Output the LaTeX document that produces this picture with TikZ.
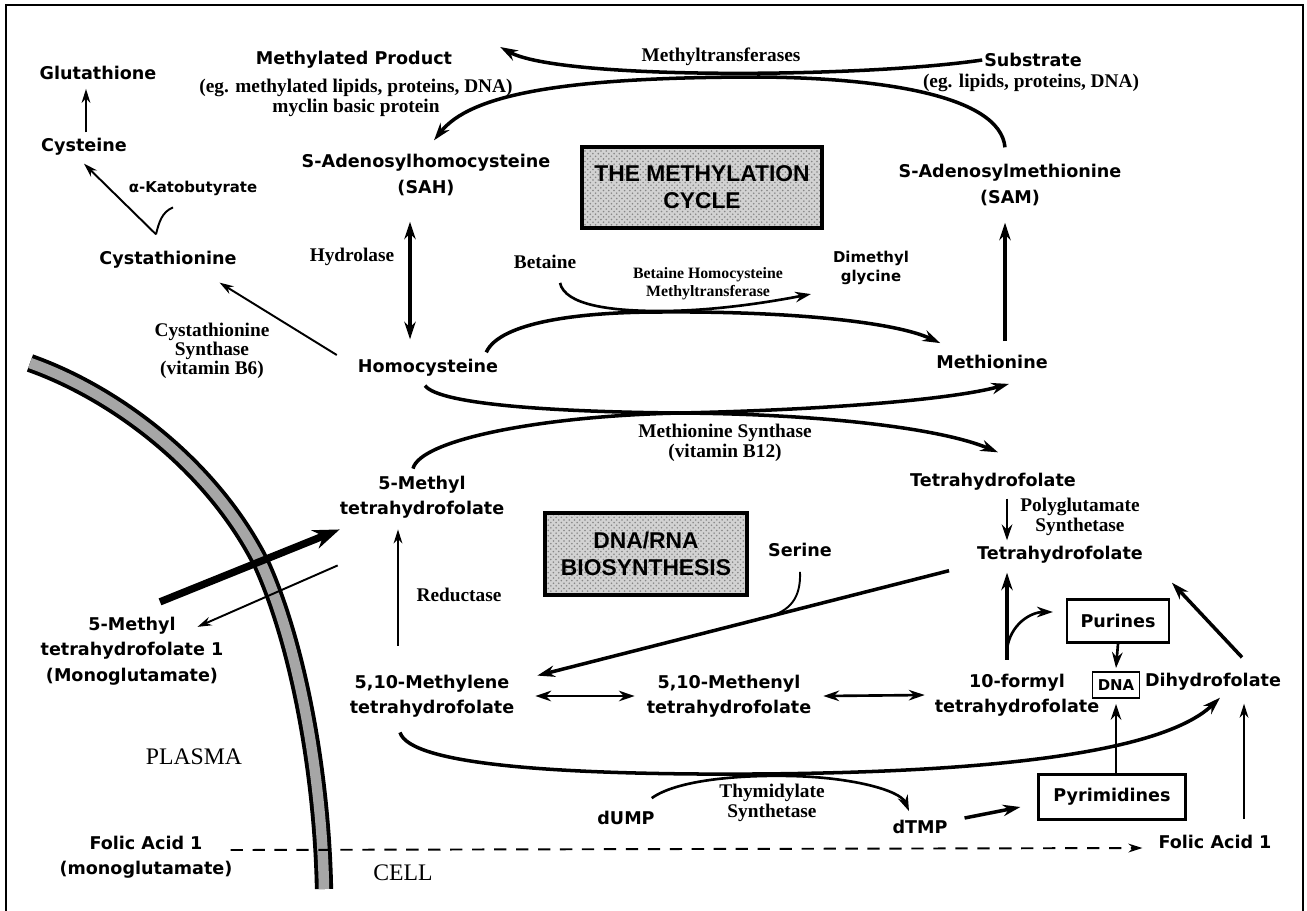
\documentclass[tikz,border=0pt]{standalone}
\usepackage{fontspec}
\usetikzlibrary{calc,arrows.meta,patterns}
\newfontfamily\dvsans{DejaVu Sans}
\newfontfamily\lserif{Liberation Serif}
\newfontfamily\lsans{Liberation Sans}

\tikzset{
  lbl/.style={font=\dvsans\bfseries\fontsize{10}{14.5}\selectfont, align=center, inner sep=1pt},
  lblsm/.style={lbl, font=\dvsans\bfseries\fontsize{8.5}{11}\selectfont},
  enz/.style={font=\lserif\bfseries\fontsize{11}{11}\selectfont, align=center, inner sep=1pt},
  enzsm/.style={enz, font=\lserif\bfseries\fontsize{9}{10.2}\selectfont},
  area/.style={font=\lserif\fontsize{13.5}{16}\selectfont, inner sep=1pt},
  titlebox/.style={draw, line width=1.8pt, preaction={fill=gray!35},
    pattern=crosshatch dots, pattern color=gray!95,
    font=\lsans\bfseries\fontsize{13}{15.5}\selectfont, align=center},
  prodbox/.style={lbl, draw, line width=1.3pt},
  thk/.style={line width=2pt, >={Stealth[length=10pt,width=6.5pt]}},
  med/.style={line width=1.5pt, >={Stealth[length=9pt,width=6pt]}},
  thn/.style={line width=1.1pt, >={Stealth[length=8pt,width=5pt]}},
  vthk/.style={line width=4.2pt, >={Stealth[length=15pt,width=11pt]}},
  dsh/.style={line width=1.1pt, dash pattern=on 7pt off 5.5pt, >={Stealth[length=8pt,width=5pt]}},
  membrane/.style={line width=2.2pt, double=gray!70, double distance=0.21cm}
}

\begin{document}
\begin{tikzpicture}[x=0.02cm, y=-0.02cm]
  \useasboundingbox (0,0) rectangle (1307,910);
  \draw[line width=1.4pt] (6,915) -- (6,5) -- (1303,5) -- (1303,915);

  % cell membrane
  \draw[membrane] (30,363) .. controls (120,395) and (215,470) .. (262,565)
    .. controls (300,650) and (322,780) .. (324,889);

  % methylation cycle
  \node[lbl] (glut) at (98,73) {Glutathione};
  \node[lbl] (cys) at (84,147) {Cysteine};
  \node[lblsm] (keto) at (193,188) {α-Katobutyrate};
  \node[lbl] (cysta) at (168,260) {Cystathionine};
  \node[enz] (cbs) at (212,351) {Cystathionine\\Synthase\\(vitamin B6)};
  \node[lbl] (methprod) at (354,60) {Methylated Product};
  \node[enz] (methex) at (356,98) {(eg. methylated lipids, proteins, DNA)\\myclin basic protein};
  \node[enz] (mtase) at (721,57) {Methyltransferases};
  \node[lbl] (subst) at (1033,60) {Substrate};
  \node[enz] (substex) at (1031,83) {(eg. lipids, proteins, DNA)};
  \node[lbl] (sah) at (426,175) {S-Adenosylhomocysteine\\(SAH)};
  \node[lbl] (sam) at (1010,185) {S-Adenosylmethionine\\(SAM)};
  \node[titlebox, minimum width=4.8cm, minimum height=1.62cm] (mcycle) at (702,187.5)
    {THE METHYLATION\\CYCLE};
  \node[enz] (hydro) at (352,257) {Hydrolase};
  \node[enz] (betaine) at (545,262) {Betaine};
  \node[enzsm] (bhmt) at (708,284) {Betaine Homocysteine\\Methyltransferase};
  \node[lblsm] (dmg) at (871,268) {Dimethyl\\glycine};
  \node[lbl] (homocys) at (428,368) {Homocysteine};
  \node[lbl] (met) at (992,362) {Methionine};
  \node[enz] (msyn) at (725,443) {Methionine Synthase\\(vitamin B12)};

  % folate cycle
  \node[lbl] (mthf) at (422,497) {5-Methyl\\tetrahydrofolate};
  \node[lbl] (thfa) at (993,482) {Tetrahydrofolate};
  \node[enz] (pgs) at (1080,517) {Polyglutamate\\Synthetase};
  \node[lbl] (serine) at (800,550) {Serine};
  \node[lbl] (thfb) at (1060,555) {Tetrahydrofolate};
  \node[titlebox, minimum width=4.04cm, minimum height=1.64cm] (dnarna) at (646,554)
    {DNA/RNA\\BIOSYNTHESIS};
  \node[enz] (reduct) at (459,595) {Reductase};
  \node[lbl] (mthfp) at (132,651) {5-Methyl\\tetrahydrofolate 1\\(Monoglutamate)};
  \node[lbl] (mlene) at (432,696) {5,10-Methylene\\tetrahydrofolate};
  \node[lbl] (menyl) at (729,696) {5,10-Methenyl\\tetrahydrofolate};
  \node[lbl] (formyl) at (1017,695) {10-formyl\\tetrahydrofolate};
  \node[prodbox, minimum width=2.04cm, minimum height=0.86cm] (purines) at (1118,621) {Purines};
  \node[prodbox, font=\dvsans\bfseries\fontsize{8.5}{10}\selectfont,
    minimum width=0.94cm, minimum height=0.52cm, line width=1.1pt] (dna) at (1116,685) {DNA};
  \node[lbl] (dhf) at (1213,682) {Dihydrofolate};
  \node[area] (plasma) at (194,757) {PLASMA};
  \node[lbl] (dump) at (626,818) {dUMP};
  \node[enz] (tyms) at (772,803) {Thymidylate\\Synthetase};
  \node[lbl] (dtmp) at (920,827) {dTMP};
  \node[prodbox, minimum width=2.94cm, minimum height=0.9cm] (pyrim) at (1112,797) {Pyrimidines};
  \node[lbl] (folr) at (1215,842) {Folic Acid 1};
  \node[lbl] (foll) at (146,857) {Folic Acid 1\\(monoglutamate)};
  \node[area] (cell) at (403,873) {CELL};

  % methyltransferase arcs
  \draw[thk,->] (subst.west) .. controls (860,78) and (560,80) .. ($(methprod.east)+(46,-13)$);
  \draw[thk,->] ($(sam.north)+(-5,-15)$) .. controls (1000,95) and (880,78) .. (760,77)
    .. controls (560,77) and (470,95) .. ($(sah.north)+(8,-12)$);
  \draw[thk,<->] ($(sah.south)+(-16,24)$) -- ($(homocys.north)+(-18,-18)$);
  \draw[thk,->] ($(met.north)+(13,-12)$) -- ($(sam.south)+(-5,15)$);

  % transsulfuration
  \draw[thn,->] ($(homocys.west)+(-19,-13)$) -- ($(cysta.south east)+(-19,12)$);
  \coordinate (kb) at ($(cysta.north)+(-12,-15)$);
  \draw[thn,->] (kb) -- ($(cys.south)+(0,6)$);
  \draw[thn] ($(keto.south)+(-20,10)$) .. controls (162,212) and (159,222) .. (kb);
  \draw[thn,->] ($(cys.north)+(2,-4)$) -- ($(glut.south)+(-12,7)$);

  % betaine and methionine synthase
  \draw[med,->] ($(betaine.south)+(15,12)$) .. controls (565,305) and (610,311) .. (660,311)
    .. controls (720,311) and (780,300) .. ($(dmg.south west)+(-20,7)$);
  \draw[thk,->] ($(homocys.north east)+(-14,-5)$) .. controls (500,322) and (580,312) .. (660,312)
    .. controls (790,311) and (895,322) .. ($(met.north west)+(6,-10)$);
  \draw[thk,->] ($(homocys.south)+(-3,7)$) .. controls (440,405) and (560,412) .. (680,413)
    .. controls (820,414) and (940,428) .. ($(thfa.north)+(5,-19)$);
  \draw[thk,->] ($(mthf.north)+(-9,-5)$) .. controls (420,440) and (540,416) .. (680,413)
    .. controls (820,410) and (950,400) .. ($(met.south)+(17,13)$);

  % transport across the membrane
  \draw[vthk,->] ($(mthfp.north)+(28,-13)$) -- ($(mthf.south west)+(2,9)$);
  \draw[thn,->] ($(mthf.south west)+(0,45)$) -- ($(mthfp.north east)+(-28,12)$);

  % folate interconversions
  \draw[thn,->] ($(mlene.north)+(-34,-27)$) -- ($(mthf.south)+(-24,9)$);
  \draw[med,->] ($(thfa.south)+(14,6)$) -- ($(thfb.north)+(-53,-4)$);
  \draw[thk,->] ($(thfb.south west)+(-26,5)$) -- coordinate[pos=0.44] (serj)
    ($(mlene.north east)+(21,3)$);
  \draw[thn] ($(serine.south)+(0,13)$) .. controls (801,598) and (790,611) .. (serj);
  \draw[med,<->] ($(mlene.east)+(19,0)$) -- ($(menyl.west)+(-10,0)$);
  \draw[med,<->] ($(menyl.east)+(10,0)$) -- ($(formyl.west)+(-8,0)$);
  \draw[thk,->] ($(formyl.north)+(-10,-12)$) -- coordinate[pos=0.12] (fj)
    ($(thfb.south)+(-53,7)$);
  \draw[med,->] (fj) .. controls (1010,625) and (1030,612) .. ($(purines.west)+(-13,-9)$);
  \draw[med,->] (purines.south) -- ($(dna.north)+(0,-3)$);
  \draw[med,->] (pyrim.north -| dna.south) -- ($(dna.south)+(0,5)$);
  \draw[thk,->] ($(dhf.north)+(29,-14)$) -- ($(thfb.south east)+(27,17)$);

  % thymidylate branch
  \draw[thk,->] ($(mlene.south)+(-32,13)$) .. controls (410,765) and (560,773) .. (700,774)
    .. controls (900,775) and (1150,765) .. ($(dhf.south)+(7,5)$);
  \draw[med,->] ($(dump.north east)+(-5,-11)$) .. controls (680,778) and (750,775) .. (790,776)
    .. controls (850,777) and (900,790) .. ($(dtmp.north)+(-11,-7)$);
  \draw[thk,->] ($(dtmp.east)+(15,-9)$) -- ($(pyrim.west)+(-17,10)$);

  % folic acid uptake
  \draw[thn,->] ($(folr.north)+(29,-14)$) -- ($(dhf.south)+(31,11)$);
  \draw[dsh,->] ($(foll.east)+(-4,-7)$) -- ($(folr.west)+(-14,6)$);
\end{tikzpicture}
\end{document}
